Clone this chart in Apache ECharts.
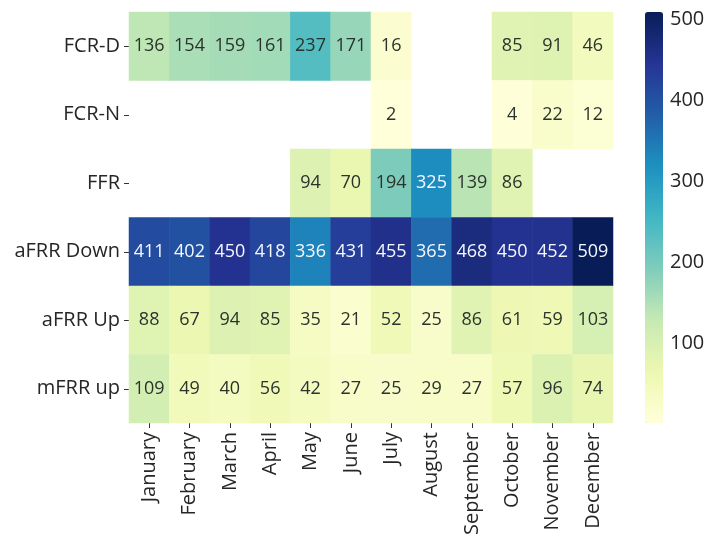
<!DOCTYPE html>
<html><head><meta charset="utf-8">
<script src="https://cdn.jsdelivr.net/npm/echarts@6/dist/echarts.min.js"></script>
<style>html,body{margin:0;padding:0;background:#fff}#c{width:712px;height:545px}</style>
</head><body><div id="c"></div>
<script>
var months = ["January","February","March","April","May","June","July","August","September","October","November","December"];
var rows = ["FCR-D","FCR-N","FFR","aFRR Down","aFRR Up","mFRR up"];
var fcrD     = [136,154,159,161,237,171,16,null,null,85,91,46];
var fcrN     = [null,null,null,null,null,null,2,null,null,4,22,12];
var ffr      = [null,null,null,null,94,70,194,325,139,86,null,null];
var afrrDown = [411,402,450,418,336,431,455,365,468,450,452,509];
var afrrUp   = [88,67,94,85,35,21,52,25,86,61,59,103];
var mfrrUp   = [109,49,40,56,42,27,25,29,27,57,96,74];
var colorTicks = [100,200,300,400,500];

var table = [fcrD,fcrN,ffr,afrrDown,afrrUp,mfrrUp];
var data = [], vmin = Infinity, vmax = -Infinity;
table.forEach(function(r, yi){
  r.forEach(function(v, xi){
    if (v === null) return;
    vmin = Math.min(vmin, v); vmax = Math.max(vmax, v);
    data.push({value:[xi, yi, v], label:{color: v > 280 ? '#f4f8ff' : '#2a332c'}});
  });
});
var font = '"Open Sans", sans-serif';
var chart = echarts.init(document.getElementById('c'));
chart.setOption({
  animation:false,
  backgroundColor:'#fff',
  grid:[
    {left:129, top:12, width:484, height:411},
    {left:645, top:12, width:18, height:411}
  ],
  xAxis:[
    {type:'category', data:months, gridIndex:0, position:'bottom',
     axisLine:{show:false}, splitArea:{show:false},
     axisTick:{show:true, alignWithLabel:true, length:5, lineStyle:{color:'#333'}},
     axisLabel:{rotate:90, fontSize:20, fontFamily:font, color:'#262626', margin:9, interval:0}},
    {type:'value', gridIndex:1, show:false, min:0, max:1}
  ],
  yAxis:[
    {type:'category', data:rows, gridIndex:0, inverse:true,
     axisLine:{show:false},
     axisTick:{show:true, alignWithLabel:true, length:5, lineStyle:{color:'#333'}},
     axisLabel:{fontSize:20, fontFamily:font, color:'#262626', margin:9, interval:0}},
    {type:'value', gridIndex:1, position:'right', min:vmin, max:vmax,
     axisLine:{show:false}, splitLine:{show:false},
     axisTick:{show:true, length:5, customValues:colorTicks, lineStyle:{color:'#333'}},
     axisLabel:{show:true, customValues:colorTicks, fontSize:20, fontFamily:font, color:'#262626', margin:7}}
  ],
  visualMap:{
    type:'continuous', min:vmin, max:vmax, calculable:false, seriesIndex:0,
    left:645, top:12, itemWidth:18, itemHeight:411, padding:0, text:null, showLabel:false,
    inRange:{color:['#ffffd9','#edf8b1','#c7e9b4','#7fcdbb','#41b6c4','#1d91c0','#225ea8','#253494','#081d58']}
  },
  series:[{
    type:'heatmap', xAxisIndex:0, yAxisIndex:0, data:data,
    itemStyle:{borderWidth:0},
    label:{show:true, fontSize:18, fontFamily:font, formatter:function(p){return p.value[2];}}
  }]
});
</script></body></html>
